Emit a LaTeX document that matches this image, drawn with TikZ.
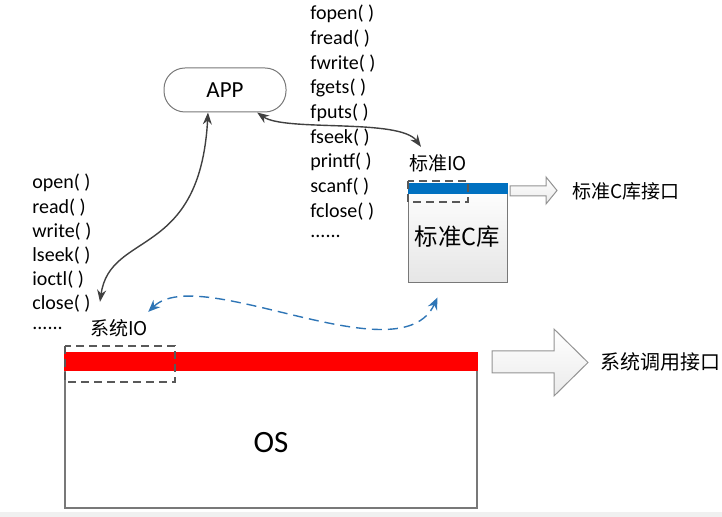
\documentclass[tikz,border=0pt]{standalone}
\usepackage{fontspec}
\setmainfont{Carlito}
\newfontfamily\cjk{Noto Sans CJK SC}
\usepackage{tikz}
\usetikzlibrary{calc,arrows.meta}

\definecolor{linegray}{RGB}{120,120,120}
\definecolor{arrowgray}{RGB}{64,64,64}
\definecolor{iored}{RGB}{255,0,0}
\definecolor{ioblue}{RGB}{0,112,192}
\definecolor{dashblue}{RGB}{46,117,182}
\definecolor{stripgray}{RGB}{240,240,240}

\newcommand{\moredots}{......}

\tikzset{
	fn/.style={anchor=west,inner sep=0pt,font=\fontsize{10}{12}\selectfont},
	cjklbl/.style={inner sep=0pt,font=\cjk\fontsize{9.5}{11}\selectfont},
	garrow/.style={arrowgray,line width=0.7pt,{Stealth[length=6pt,width=4.5pt]}-{Stealth[length=6pt,width=4.5pt]}},
	barrow/.style={dashblue,line width=0.7pt,dash pattern=on 5pt off 3pt,{Stealth[length=6pt,width=5pt]}-{Stealth[length=6pt,width=5pt]}},
	fatarrow/.style={draw=linegray!80,line width=0.5pt,top color=white,bottom color=black!8},
	iobox/.style={draw=black!65,line width=0.6pt,dash pattern=on 4pt off 2.5pt}
}

\begin{document}
\begin{tikzpicture}[x=0.5pt,y=-0.5pt]
	\useasboundingbox (0,0) rectangle (722,517);
	\fill[stripgray] (0,512) rectangle (722,517);
	% APP
	\node[draw=linegray,line width=0.5pt,rounded corners=10.5pt,minimum width=61pt,minimum height=22pt,inner sep=0pt,font=\fontsize{11.5}{13}\selectfont] (app) at (225,90) {APP};
	% function lists
	\foreach \f [count=\i] in {fopen( ),fread( ),fwrite( ),fgets( ),fputs( ),fseek( ),printf( ),scanf( ),fclose( ),\moredots}
		{\node[fn] (cf\i) at (310,14+24.7*\i-24.7) {\f};}
	\foreach \f [count=\i] in {open( ),read( ),write( ),lseek( ),ioctl( ),close( ),\moredots}
		{\node[fn] (sf\i) at (32,183+24.2*\i-24.2) {\f};}
	% standard C library
	\node[draw=linegray,line width=0.5pt,top color=white,bottom color=black!10,minimum width=49.5pt,minimum height=49.5pt,inner sep=0pt] (cbox) at (457.5,233.5) {};
	\fill[ioblue] (cbox.north west) rectangle ($(cbox.north east)+(0,11)$);
	\draw[iobox] (408,181) rectangle (468,202);
	\node[cjklbl,font=\cjk\fontsize{11.7}{14}\selectfont] (clib) at ($(cbox.center)+(0,3)$) {标准C库};
	\node[cjklbl] (stdio) at (438,163) {标准IO};
	\draw[fatarrow] (510,186) -- (546,186) -- (546,177) -- (557,190.5) -- (546,204) -- (546,196) -- (510,196) -- cycle;
	\node[cjklbl,anchor=west] (capi) at (572,191) {标准C库接口};
	% OS
	\node[draw=linegray,line width=0.6pt,minimum width=206pt,minimum height=77.5pt,inner sep=0pt] (os) at (271,430.5) {};
	\fill[iored] (os.north west) rectangle ($(os.north east)+(0,19)$);
	\draw[iobox] (65,346) rectangle (175,382);
	\node[font=\fontsize{15.5}{18}\selectfont,inner sep=0pt] (ostxt) at ($(os.center)+(0,12)$) {OS};
	\node[cjklbl] (sysio) at (119,328) {系统IO};
	\draw[fatarrow] (492,351) -- (554,351) -- (554,329) -- (588,362.5) -- (554,396) -- (554,373) -- (492,373) -- cycle;
	\node[cjklbl,font=\cjk\fontsize{10}{12}\selectfont,anchor=west] (sapi) at (600,362) {系统调用接口};
	% connectors
	\draw[garrow] ([xshift=-8.5pt]app.south) .. controls (200,260) and (110,230) .. ($(sysio.north)+(-19,-17)$);
	\draw[garrow] (app.-35) .. controls (285,132) and (400,118) .. ($(stdio.north)+(-17,-7)$);
	\draw[barrow] ($(sysio.north east)+(0,-7)$) .. controls (200,262) and (400,378) .. ($(cbox.south)+(-20,14)$);
\end{tikzpicture}
\end{document}
